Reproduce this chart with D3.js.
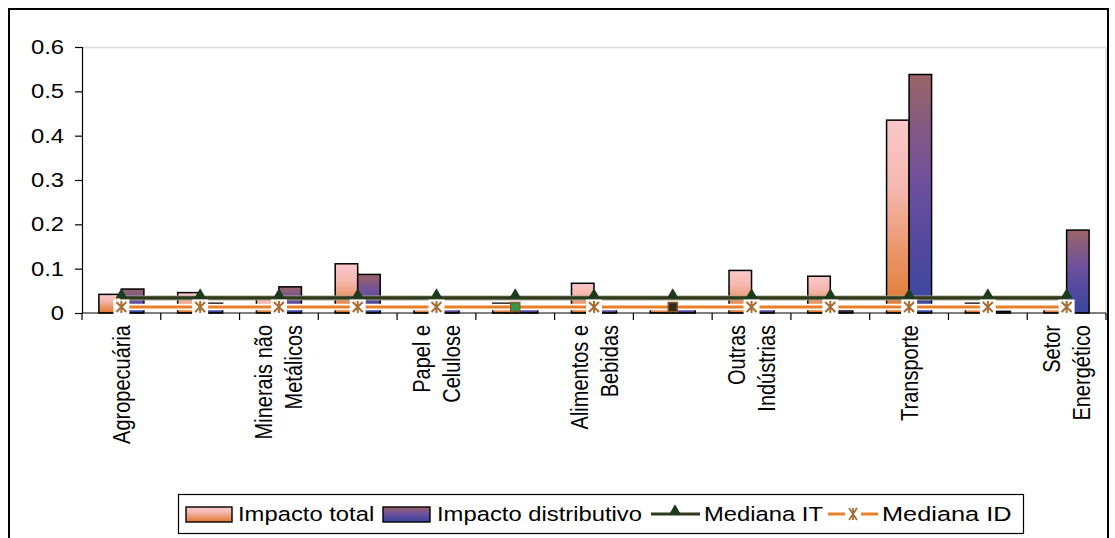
<!DOCTYPE html>
<html>
<head>
<meta charset="utf-8">
<script src="https://cdn.jsdelivr.net/npm/d3@7"></script>
<style>
  html, body { margin: 0; padding: 0; background: #fff; }
  svg { display: block; font-family: "Liberation Sans", Arial, sans-serif; }
</style>
</head>
<body>
<svg id="chart" width="1115" height="538"></svg>
<script>
// Sectors (only every other one gets a printed label, as in the spreadsheet export)
const categories = [
  "Agropecuária", "Mineração", "Minerais não\nMetálicos", "Metalurgia",
  "Papel e\nCelulose", "Química", "Alimentos e\nBebidas", "Têxtil",
  "Outras\nIndústrias", "Comércio e\nServiços", "Transporte", "Residencial",
  "Setor\nEnergético"
];
const impactoTotal        = [0.042, 0.046, 0.035, 0.111, 0.015, 0.022, 0.067, 0.018, 0.096, 0.083, 0.435, 0.022, 0.018];
const impactoDistributivo = [0.054, 0.022, 0.059, 0.087, 0.009, 0.011, 0.009, 0.012, 0.010, 0.005, 0.538, 0.004, 0.187];
const medianaIT = [0.034, 0.034, 0.034, 0.034, 0.034, 0.034, 0.034, 0.034, 0.034, 0.034, 0.034, 0.034, 0.034];
const medianaID = [0.0135, 0.0135, 0.0135, 0.0135, 0.0135, 0.0135, 0.0135, 0.0135, 0.0135, 0.0135, 0.0135, 0.0135, 0.0135];
const yTicks = [0, 0.1, 0.2, 0.3, 0.4, 0.5, 0.6];
const seriesNames = ["Impacto total", "Impacto distributivo", "Mediana IT", "Mediana ID"];

(function draw() {
  const svg = d3.select("#chart");
  const SX = 1.22;          // horizontal stretch of the exported text
  const FONT = 19.5;

  // Plot area
  const pLeft = 82, pRight = 1106, pTop = 47, pBottom = 313;

  const x = d3.scaleBand().domain(d3.range(categories.length)).range([pLeft, pRight]).padding(0);
  const xs = d3.scaleBand().domain([0, 1]).range([0, x.bandwidth()]).paddingInner(0).paddingOuter(0.75);
  const y = d3.scaleLinear().domain([0, 0.6]).range([pBottom, pTop]);
  const cx = i => x(i) + x.bandwidth() / 2;

  // Gradients
  const defs = svg.append("defs");
  function grad(id, stops) {
    const g = defs.append("linearGradient").attr("id", id)
      .attr("x1", 0).attr("y1", 0).attr("x2", 0).attr("y2", 1);
    stops.forEach(([o, c]) => g.append("stop").attr("offset", o).attr("stop-color", c));
  }
  grad("gPink", [[0, "#fac9c9"], [0.35, "#f4b8b0"], [0.7, "#e99466"], [1, "#e0792b"]]);
  grad("gBlue", [[0, "#9a6466"], [0.45, "#6e509e"], [0.75, "#4e489e"], [1, "#3a48a0"]]);

  // Outer frame
  svg.append("rect").attr("x", 9).attr("y", 9).attr("width", 1099).attr("height", 545)
    .attr("fill", "none").attr("stroke", "#000").attr("stroke-width", 2);

  // Plot area border (light)
  svg.append("path")
    .attr("d", `M${pLeft},${pTop + 0.5}H${pRight}V${pBottom}`)
    .attr("fill", "none").attr("stroke", "#dcdcdc").attr("stroke-width", 1.5);

  // Bars
  const barData = [];
  categories.forEach((c, i) => {
    barData.push({ i, s: 0, v: impactoTotal[i] });
    barData.push({ i, s: 1, v: impactoDistributivo[i] });
  });
  svg.append("g").selectAll("rect").data(barData).join("rect")
    .attr("x", d => x(d.i) + xs(d.s))
    .attr("y", d => y(d.v))
    .attr("width", xs.bandwidth())
    .attr("height", d => y(0) - y(d.v))
    .attr("fill", d => d.s === 0 ? "url(#gPink)" : "url(#gBlue)")
    .attr("stroke", "#000").attr("stroke-width", 1.5);

  // Axes
  const yAxis = svg.append("g").attr("transform", `translate(${pLeft},0)`)
    .call(d3.axisLeft(y).tickValues(yTicks).tickSize(7).tickFormat(""));
  yAxis.select(".domain").attr("stroke", "#000").attr("stroke-width", 1.2);
  yAxis.selectAll(".tick line").attr("stroke", "#000").attr("stroke-width", 1.2);

  svg.append("g").selectAll("text").data(yTicks).join("text")
    .attr("transform", d => `translate(64,${y(d)}) scale(${SX},1)`)
    .attr("text-anchor", "end").attr("dy", "0.36em")
    .attr("font-size", FONT).attr("fill", "#000")
    .text(d => d === 0 ? "0" : d3.format(".1f")(d));

  const edges = d3.range(categories.length + 1).map(i => pLeft + i * x.step());
  svg.append("line").attr("x1", pLeft).attr("x2", pRight).attr("y1", pBottom).attr("y2", pBottom)
    .attr("stroke", "#000").attr("stroke-width", 1.2);
  svg.append("g").selectAll("line").data(edges).join("line")
    .attr("x1", d => d).attr("x2", d => d).attr("y1", pBottom).attr("y2", pBottom + 7)
    .attr("stroke", "#000").attr("stroke-width", 1.2);

  // Category labels (rotated, every other sector)
  const labG = svg.append("g");
  categories.forEach((c, i) => {
    if (i % 2 !== 0) return;
    const lines = c.split("\n");
    lines.forEach((ln, k) => {
      const xx = cx(i) + (k - (lines.length - 1) / 2) * 30;
      labG.append("text")
        .attr("transform", `translate(${xx},325) scale(${SX},1) rotate(-90)`)
        .attr("text-anchor", "end").attr("dy", "0.35em")
        .attr("font-size", 20).attr("fill", "#000")
        .text(ln);
    });
  });

  // Mediana IT line with triangle markers
  const lineGen = d3.line().x((d, i) => cx(i)).y(d => y(d));
  svg.append("path").attr("d", lineGen(medianaIT))
    .attr("fill", "none").attr("stroke", "#a6a896").attr("stroke-width", 5);
  svg.append("path").attr("d", lineGen(medianaIT))
    .attr("fill", "none").attr("stroke", "#2f3a1c").attr("stroke-width", 3.2);
  const tri = d3.symbol().type(d3.symbolTriangle).size(60);
  svg.append("g").selectAll("path").data(medianaIT).join("path")
    .attr("d", tri)
    .attr("transform", (d, i) => `translate(${cx(i)},${y(d) - 3})`)
    .attr("fill", "#1c3a1c");

  // Mediana ID line with white halo and star markers
  svg.append("path").attr("d", lineGen(medianaID))
    .attr("fill", "none").attr("stroke", "#fff").attr("stroke-width", 6.5);
  svg.append("path").attr("d", lineGen(medianaID))
    .attr("fill", "none").attr("stroke", "#e8802a").attr("stroke-width", 3.2);

  const squareMarkers = { 5: "#2f9a4a", 7: "#2d2b1b" };
  const mk = svg.append("g");
  medianaID.forEach((v, i) => {
    const px = cx(i), py = y(v);
    if (squareMarkers[i]) {
      mk.append("rect").attr("x", px - 4.5).attr("y", py - 4.5).attr("width", 9).attr("height", 9)
        .attr("fill", squareMarkers[i]).attr("stroke", "#8a5a2a").attr("stroke-width", 1.5);
      return;
    }
    mk.append("rect").attr("x", px - 8).attr("y", py - 7.5).attr("width", 16).attr("height", 15).attr("fill", "#fff");
    mk.append("path")
      .attr("d", `M${px - 5},${py - 5}L${px + 5},${py + 5}M${px + 5},${py - 5}L${px - 5},${py + 5}M${px},${py - 6}V${py + 6}`)
      .attr("stroke", "#a86d32").attr("stroke-width", 2).attr("fill", "none");
  });

  // Legend
  const lg = svg.append("g");
  lg.append("rect").attr("x", 178.5).attr("y", 494.5).attr("width", 845).attr("height", 39)
    .attr("fill", "#fff").attr("stroke", "#000").attr("stroke-width", 1.2);
  const ly = 514;
  lg.append("rect").attr("x", 186).attr("y", 507).attr("width", 46).attr("height", 15)
    .attr("fill", "url(#gPink)").attr("stroke", "#000").attr("stroke-width", 1.4);
  lg.append("rect").attr("x", 383).attr("y", 507).attr("width", 47).attr("height", 15)
    .attr("fill", "url(#gBlue)").attr("stroke", "#000").attr("stroke-width", 1.4);
  lg.append("line").attr("x1", 651).attr("x2", 700).attr("y1", ly).attr("y2", ly)
    .attr("stroke", "#2f3a1c").attr("stroke-width", 3);
  lg.append("path").attr("d", tri).attr("transform", `translate(675,${ly - 3})`).attr("fill", "#1c3a1c");
  lg.append("line").attr("x1", 828).attr("x2", 845).attr("y1", ly).attr("y2", ly)
    .attr("stroke", "#e8802a").attr("stroke-width", 3);
  lg.append("line").attr("x1", 861).attr("x2", 878).attr("y1", ly).attr("y2", ly)
    .attr("stroke", "#e8802a").attr("stroke-width", 3);
  lg.append("path")
    .attr("d", `M849,${ly - 6}L857,${ly + 6}M857,${ly - 6}L849,${ly + 6}M853,${ly - 6}V${ly + 6}`)
    .attr("stroke", "#a86d32").attr("stroke-width", 1.8).attr("fill", "none");
  const legendTextX = [238, 437, 704, 882];
  const legendScale = [SX, SX, SX, 1.3];
  seriesNames.forEach((n, k) => {
    lg.append("text")
      .attr("transform", `translate(${legendTextX[k]},${ly}) scale(${legendScale[k]},1)`)
      .attr("dy", "0.36em").attr("font-size", FONT).attr("fill", "#000")
      .text(n);
  });
})();
</script>
</body>
</html>
